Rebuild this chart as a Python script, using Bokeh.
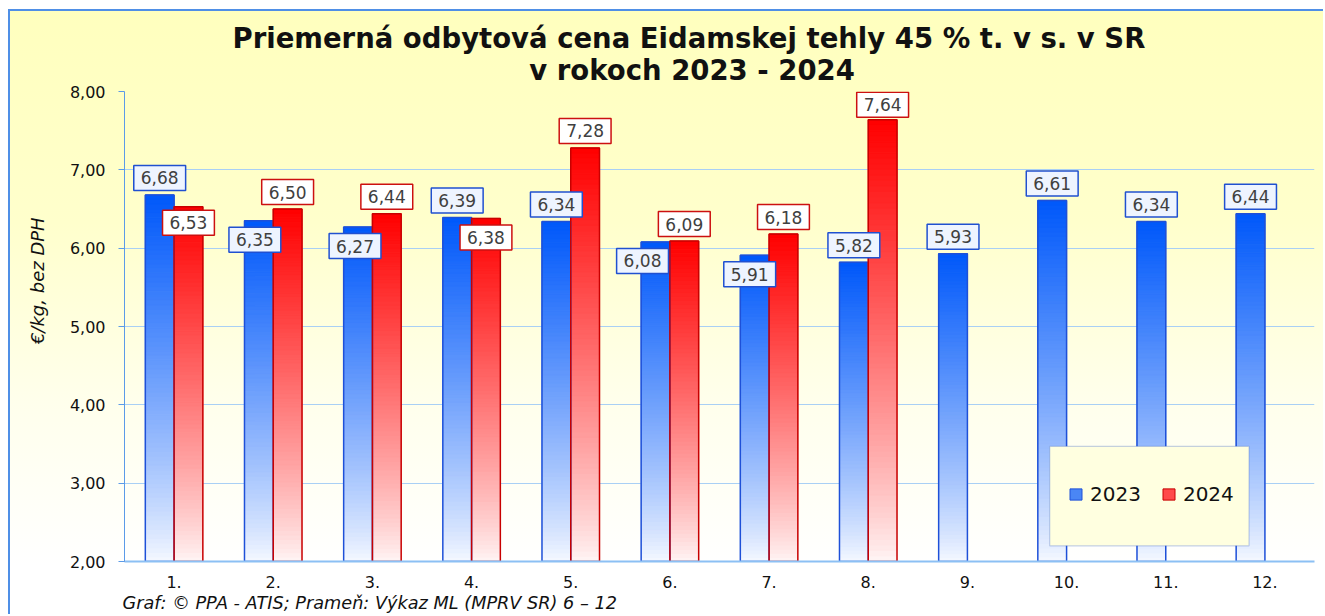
import numpy as np
from bokeh.plotting import figure
from bokeh.models import (Range1d, FixedTicker, CustomJSTickFormatter, Legend,
                          LegendItem, ColumnDataSource, Title, BoxAnnotation)
from bokeh.core.properties import value
from bokeh.embed import file_html
from bokeh.resources import INLINE

# ---------------- data ----------------
months = [1, 2, 3, 4, 5, 6, 7, 8, 9, 10, 11, 12]
month_labels = ["1.", "2.", "3.", "4.", "5.", "6.", "7.", "8.", "9.", "10.", "11.", "12."]
series_names = ["2023", "2024"]
price_2023 = [6.68, 6.35, 6.27, 6.39, 6.34, 6.08, 5.91, 5.82, 5.93, 6.61, 6.34, 6.44]
price_2024 = [6.53, 6.50, 6.44, 6.38, 7.28, 6.09, 6.18, 7.64]
y_ticks = [2, 3, 4, 5, 6, 7, 8]
title_1 = "Priemerná odbytová cena Eidamskej tehly 45 % t. v s. v SR"
title_2 = "v rokoch 2023 - 2024"
y_label = "€/kg,  bez DPH"
footer = "Graf: © PPA - ATIS; Prameň: Výkaz ML (MPRV SR) 6 – 12"

# label placement (style): above or below the bar top, small nudges in px
side_2023 = ["up", "down", "down", "up", "up", "down", "down", "up", "up", "up", "up", "up"]
side_2024 = ["down", "up", "up", "down", "up", "up", "up", "up"]
nudge_2023 = [0, -4, -3, 0, 0, -13, -5, 0, 0, 0, 0, 0]
nudge_2024 = [0, 0, 0, 0, 0, 0, 0, 0]
ynudge_2023 = [0, 0, 0, 0, 0, 0, 0, 0, 0, 0, 0, 0]
ynudge_2024 = [-3, 0, 0, 0, 0, 0, 0, 2]

BASE = 2.0
BAR_W = 0.29
OFF = 0.145
NBSP = "\u00a0"

p = figure(width=1315, height=605, output_backend="svg", toolbar_location=None,
           x_range=Range1d(0.5, 12.5), y_range=Range1d(2, 8),
           min_border_left=114, min_border_right=11, min_border_top=80,
           min_border_bottom=55)
p.background_fill_color = None
p.border_fill_color = None
p.outline_line_color = None
p.styles = {
    "background-image": "linear-gradient(to bottom, #FFFFBE 0%, #FFFFCC 35%, #FFFFEC 65%, #FFFFFF 92%)",
    "border-left": "2px solid #4F8FE6",
    "border-top": "2px solid #4F8FE6",
    "margin-left": "8px",
    "margin-top": "9px",
}


def gradient_bars(xs, vals, top_rgb, bottom_rgb, n=80):
    xx, bb, tt, cc = [], [], [], []
    for x, v in zip(xs, vals):
        for i in range(n):
            b = BASE + (v - BASE) * i / n
            t = BASE + (v - BASE) * (i + 1) / n
            f = ((i + 0.5) / n) ** 0.85
            c = tuple(int(round(bottom_rgb[k] + (top_rgb[k] - bottom_rgb[k]) * f)) for k in range(3))
            xx.append(x); bb.append(b); tt.append(t)
            cc.append("#%02x%02x%02x" % c)
    return dict(x=xx, bottom=bb, top=tt, color=cc)


x23 = [m - OFF for m in months]
x24 = [m + OFF for m in months[:len(price_2024)]]

g23 = ColumnDataSource(gradient_bars(x23, price_2023, (0, 88, 250), (246, 249, 255)))
g24 = ColumnDataSource(gradient_bars(x24, price_2024, (255, 0, 0), (255, 246, 246)))
p.vbar(x="x", bottom="bottom", top="top", width=BAR_W, fill_color="color",
       line_color="color", line_width=1, source=g23)
p.vbar(x="x", bottom="bottom", top="top", width=BAR_W, fill_color="color",
       line_color="color", line_width=1, source=g24)
p.vbar(x=x23, bottom=BASE, top=price_2023, width=BAR_W, fill_color=None,
       line_color="#1E50D8", line_width=1.5)
p.vbar(x=x24, bottom=BASE, top=price_2024, width=BAR_W, fill_color=None,
       line_color="#C80000", line_width=1.5)


def fmt(v):
    return ("%.2f" % v).replace(".", ",")


def label_source(xs, vals, sides, nudges, ynudges):
    return ColumnDataSource(dict(
        x=xs, y=vals, text=[fmt(v) for v in vals],
        yoff=[(-17 if s == "up" else 19) + dy for s, dy in zip(sides, ynudges)],
        xoff=nudges))


common = dict(x="x", y="y", text="text", x_offset="xoff", y_offset="yoff",
              text_align="center", text_baseline="middle",
              text_font=value("DejaVu Sans"), text_font_size="17px", text_color="#404040",
              border_line_width=1.5, padding=(7, 6))
p.text(source=label_source(x23, price_2023, side_2023, nudge_2023, ynudge_2023),
       background_fill_color="#EEF4FF", border_line_color="#2050D0", **common)
p.text(source=label_source(x24, price_2024, side_2024, nudge_2024, ynudge_2024),
       background_fill_color="#FFFFFF", border_line_color="#CC1010", **common)

# axes
p.xgrid.grid_line_color = None
p.ygrid.grid_line_color = "#A9D0F5"
p.ygrid.grid_line_width = 1.2
p.yaxis.ticker = FixedTicker(ticks=y_ticks)
p.yaxis.formatter = CustomJSTickFormatter(code="return tick.toFixed(2).replace('.', ',');")
p.yaxis.axis_line_color = "#5B9BE8"
p.yaxis.major_tick_line_color = "#5B9BE8"
p.yaxis.major_tick_out = 6
p.yaxis.major_tick_in = 0
p.yaxis.minor_tick_line_color = None
p.yaxis.major_label_standoff = 13
p.yaxis.major_label_text_font = "DejaVu Sans"
p.yaxis.major_label_text_font_size = "16px"
p.yaxis.major_label_text_color = "#111111"
p.yaxis.axis_label = NBSP * 17 + y_label
p.yaxis.axis_label_standoff = 19
p.yaxis.axis_label_text_font = "DejaVu Sans"
p.yaxis.axis_label_text_font_style = "italic"
p.yaxis.axis_label_text_font_size = "18px"
p.yaxis.axis_label_text_color = "#111111"

p.xaxis.ticker = FixedTicker(ticks=months)
p.xaxis.major_label_overrides = {m: l for m, l in zip(months, month_labels)}
p.xaxis.axis_line_color = "#8CC0F4"
p.xaxis.axis_line_width = 2
p.xaxis.major_tick_line_color = None
p.xaxis.minor_tick_line_color = None
p.xaxis.major_label_standoff = 8
p.xaxis.major_label_text_font = "DejaVu Sans"
p.xaxis.major_label_text_font_size = "16px"
p.xaxis.major_label_text_color = "#111111"

# titles (two lines; second line centred under the first with leading nbsp)
p.add_layout(Title(text=title_1 + "\n" + NBSP * 31 + title_2, align="left", offset=108,
                   standoff=12, text_font="DejaVu Sans", text_font_style="bold",
                   text_font_size="27.5px", text_line_height=1.0, text_color="#111111"), "above")
p.add_layout(Title(text=footer, align="left", offset=-2, standoff=0,
                   text_font="DejaVu Sans", text_font_style="italic", text_font_size="17.7px",
                   text_color="#111111"), "below")

# legend
p.add_layout(BoxAnnotation(left=9.83, right=11.84, bottom=2.2, top=3.47,
                           fill_color="#FFFFE0", fill_alpha=1, line_color="#3C64C8",
                           line_width=1.2))
leg23 = p.vbar(x=[-10], top=[3], width=0.2, fill_color="#4A86F5", line_color="#1E50D8")
leg24 = p.vbar(x=[-10], top=[3], width=0.2, fill_color="#FF4A4A", line_color="#C80000")
legend = Legend(items=[LegendItem(label=series_names[0], renderers=[leg23]),
                       LegendItem(label=series_names[1], renderers=[leg24])],
                orientation="horizontal", location=(944, 55), padding=10, margin=0,
                background_fill_alpha=0, border_line_color=None,
                glyph_width=15, glyph_height=14, label_standoff=7, spacing=20,
                label_text_font="DejaVu Sans", label_text_font_size="20px",
                label_text_color="#111111")
p.add_layout(legend)

open("out.html", "w").write(file_html(p, INLINE))
